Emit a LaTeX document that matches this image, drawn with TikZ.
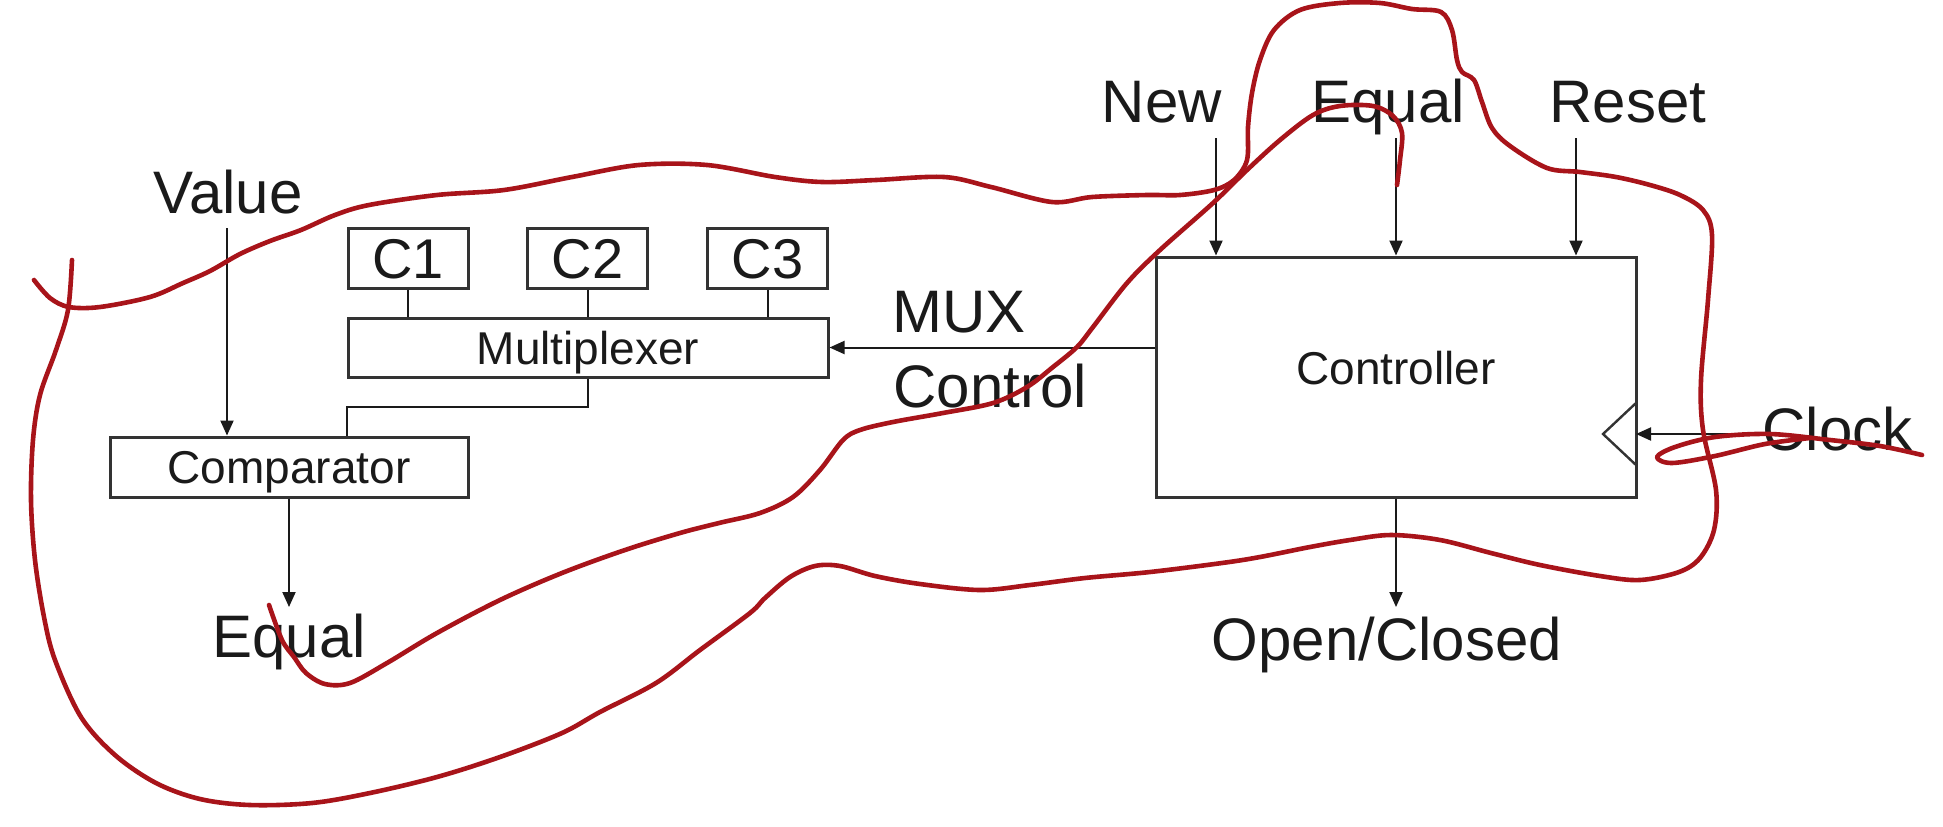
\documentclass[tikz,border=0pt]{standalone}
\usepackage{fontspec}
\setmainfont{Liberation Sans}
\usetikzlibrary{arrows.meta,calc}
\definecolor{ink}{HTML}{1A1A1A}
\definecolor{boxline}{HTML}{333333}
\definecolor{pen}{RGB}{168,20,26}
\begin{document}
\begin{tikzpicture}[x=0.5pt,y=-0.5pt,
  big/.style={font=\fontsize{30}{36}\selectfont, text=ink, inner sep=0pt, anchor=base},
  blk/.style={draw=boxline, line width=1.5pt, rectangle, inner sep=0pt,
    font=\fontsize{23}{28}\selectfont, text=ink, text height=16.5pt, text depth=0pt},
  cbox/.style={blk, minimum width=60pt, minimum height=30pt,
    font=\fontsize{28}{32}\selectfont, text height=20pt},
  arr/.style={draw=ink, line width=1pt, -{Triangle[width=6.5pt,length=7.5pt]}},
  wire/.style={draw=ink, line width=1pt},
  clkwire/.style={draw=boxline, line width=1.2pt},
  penline/.style={draw=pen, line width=2.3pt, line cap=round, line join=round}
]
\useasboundingbox[fill=white] (0,0) rectangle (1943,826);

% blocks
\node[cbox] (c1) at (408,258) {C1};
\node[cbox] (c2) at (587.5,258) {C2};
\node[cbox] (c3) at (767.5,258) {C3};
\node[blk, minimum width=240pt, minimum height=29.5pt] (mux) at (588,347.5) {Multiplexer};
\node[blk, minimum width=179pt, minimum height=30pt] (comp) at (289,467) {Comparator};
\node[blk, minimum width=240pt, minimum height=120pt, text depth=9pt] (ctrl) at (1396,377) {Controller};

% labels
\node[big] (value) at (228,213) {Value};
\node[big] (new) at (1162,122) {New};
\node[big] (eqin) at (1388,122) {Equal};
\node[big] (reset) at (1628,122) {Reset};
\node[big, anchor=base west] (muxa) at (892,332) {MUX};
\node[big, anchor=base west] (muxb) at (893,407) {Control};
\node[big, anchor=base west] (clock) at (1762,450) {Clock};
\node[big] (oc) at (1387,660) {Open/Closed};
\node[big] (eqout) at (289,657) {Equal};

% free ends
\coordinate (valin) at (227,228);
\coordinate (newin) at (1216,138);
\coordinate (eqinc) at (1396,138);
\coordinate (rstin) at (1576,138);
\coordinate (clk) at (1636,434);
\coordinate (clkin) at (1758,434);
\coordinate (eqo) at (289,607);
\coordinate (oco) at (1396,607);

% connectors
\draw[arr] (valin) -- (valin |- comp.north);
\foreach \c in {c1,c2,c3} \draw[wire] (\c.south) -- (\c.south |- mux.north);
\draw[wire] (mux.south) |- ($(mux.south west)+(0,28)$) -- (mux.south west |- comp.north);
\draw[arr] (ctrl.west |- mux.east) -- (mux.east);
\draw[arr] (newin) -- (newin |- ctrl.north);
\draw[arr] (eqinc) -- (eqinc |- ctrl.north);
\draw[arr] (rstin) -- (rstin |- ctrl.north);
\draw[clkwire] ($(clk)+(0,-31)$) -- ($(clk)+(-33,0)$) -- ($(clk)+(0,31)$);
\draw[arr] (clkin) -- (clk);
\draw[arr] (comp.south) -- (eqo);
\draw[arr] (ctrl.south) -- (oco);

% red pen annotations
\draw[penline] plot[smooth, tension=0.55] coordinates {
(34,280) (50,298) (69,307) (100,307) (150,297) (183,283) (210,271) (240,254) (270,241)
(301,230) (335,215) (369,205) (437,195) (504,190) (572,177) (639,165) (707,165)
(775,177) (822,182) (876,180) (944,177) (991,187) (1052,202) (1092,197) (1147,195)
(1180,195) (1214,190) (1234,180) (1247,160) (1248,127) (1252,93)
(1260,60) (1274,30) (1300,10) (1340,3) (1380,3) (1412,9) (1441,12) (1452,30) (1457,60)
(1462,72) (1474,80) (1482,102) (1492,128) (1510,146) (1547,168) (1580,172) (1616,177)
(1650,185) (1680,195) (1703,210) (1712,235) (1708,300) (1701,380) (1703,430) (1716,490)
(1714,530) (1700,558) (1679,572) (1640,580) (1600,576) (1540,565) (1491,553) (1440,540)
(1391,535) (1350,540) (1310,547) (1260,557) (1222,563) (1150,572) (1085,578) (1030,585)
(980,590) (920,584) (875,576) (840,566) (815,566) (790,577) (765,598) (750,613) (700,650)
(656,683) (600,712) (562,733) (500,757) (437,777) (370,793) (312,803) (250,805) (200,799)
(156,783) (115,755) (81,717) (55,660) (44,617) (35,560) (31,500) (33,440) (40,395)
(56,350) (68,310) (72,260)};
\draw[penline] plot[smooth, tension=0.55] coordinates {
(269,605) (282,640) (294,657) (306,673) (325,684) (350,683) (387,663) (437,633) (500,600)
(562,573) (625,550) (680,533) (719,523) (760,513) (793,497) (820,470) (843,440)
(860,430) (893,422) (943,413) (993,403) (1027,387) (1053,367) (1077,347) (1093,327)
(1127,283) (1160,250) (1213,203) (1247,170) (1280,140) (1313,115) (1340,106) (1373,106)
(1393,116) (1402,133) (1400,160) (1397,185)};
\draw[penline] plot[smooth, tension=0.55] coordinates {
(1922,455) (1880,446) (1830,440) (1770,434) (1715,437) (1675,447) (1657,457) (1672,463)
(1715,456) (1765,444) (1810,438)};
\end{tikzpicture}
\end{document}
